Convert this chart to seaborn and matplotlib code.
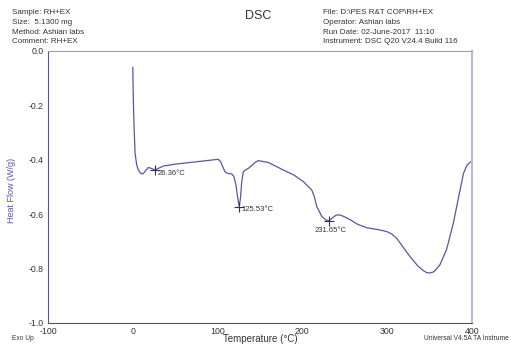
import numpy as np
import pandas as pd
import seaborn as sns
import matplotlib.pyplot as plt
from matplotlib.ticker import MultipleLocator

# DSC curve (temperature in C, heat flow in W/g)
temp = [0.0, 0.3, 0.8, 1.5, 2.7, 4.6, 6.5, 8.5, 10.5, 12.5, 15.0, 18.4, 22.0, 26.36,
        36.0, 50.0, 70.0, 90.0, 100.8, 103.6, 106.0, 108.7, 112.0, 116.6, 119.0,
        121.5, 123.5, 125.53, 127.0, 128.3, 130.3, 133.0, 136.0, 140.0, 144.0, 148.0,
        160.0, 177.4, 190.0, 201.0, 211.0, 214.0, 217.0, 223.0, 228.0, 231.65, 236.0,
        240.0, 244.6, 250.0, 256.6, 265.0, 276.0, 290.0, 299.5, 305.0, 311.3, 318.0,
        327.0, 336.0, 342.0, 346.6, 350.0, 355.0, 362.0, 370.0, 378.0, 384.0, 390.0,
        394.0, 398.5]
heat = [-0.06, -0.12, -0.20, -0.28, -0.376, -0.419, -0.437, -0.447, -0.452, -0.450,
        -0.440, -0.428, -0.432, -0.437, -0.423, -0.416, -0.409, -0.402, -0.398,
        -0.407, -0.425, -0.444, -0.450, -0.452, -0.460, -0.490, -0.535, -0.572,
        -0.540, -0.486, -0.444, -0.437, -0.432, -0.422, -0.410, -0.403, -0.410,
        -0.4375, -0.456, -0.480, -0.511, -0.535, -0.572, -0.609, -0.622, -0.624,
        -0.612, -0.603, -0.603, -0.610, -0.621, -0.637, -0.650, -0.657, -0.664,
        -0.672, -0.689, -0.718, -0.756, -0.790, -0.806, -0.815, -0.816, -0.812,
        -0.787, -0.730, -0.633, -0.540, -0.450, -0.420, -0.407]

peak_t = [26.36, 125.53, 231.65]
peak_v = [-0.437, -0.572, -0.624]
peak_lbl = ["26.36°C", "125.53°C", "231.65°C"]

left_hdr = ["Sample: RH+EX", "Size:  5.1300 mg", "Method: Ashian labs", "Comment: RH+EX"]
right_hdr = ["File: D:\\PES R&T COP\\RH+EX", "Operator: Ashian labs",
             "Run Date: 02-June-2017  11:10", "Instrument: DSC Q20 V24.4 Build 116"]

df = pd.DataFrame({"T": temp, "HF": heat})

sns.set_style("white")
plt.rcParams['font.family'] = ['Liberation Sans', 'DejaVu Sans']
plt.rcParams['axes.unicode_minus'] = False

line_col = "#5558a4"
txt_col = "#333333"

fig = plt.figure(figsize=(5.11, 3.45), dpi=100)
ax = fig.add_axes([48 / 511, 1 - 323 / 345, 424 / 511, 272 / 345])

sns.lineplot(data=df, x="T", y="HF", sort=False, color=line_col, lw=0.9, ax=ax)

# peak markers
ax.plot(peak_t, peak_v, ls="none", marker="+", ms=7, mew=0.8, color="#333355")
for t, v, s in zip(peak_t, peak_v, peak_lbl):
    if t < 200:
        ax.text(t + 3, v - 0.012, s, fontsize=5.5, color=txt_col, ha="left", va="center")
    else:
        ax.text(t + 1, v - 0.037, s, fontsize=5.5, color=txt_col, ha="center", va="center")

ax.set_xlim(-100, 400)
ax.set_ylim(-1.0, 0.0)
ax.xaxis.set_major_locator(MultipleLocator(100))
ax.xaxis.set_minor_locator(MultipleLocator(25))
ax.yaxis.set_major_locator(MultipleLocator(0.2))
ax.yaxis.set_minor_locator(MultipleLocator(0.05))
ax.set_yticks([0.0, -0.2, -0.4, -0.6, -0.8, -1.0])
ax.set_yticklabels(["0.0", "-0.2", "-0.4", "-0.6", "-0.8", "-1.0"])
ax.tick_params(axis="both", which="major", direction="inout", length=4, width=0.6,
               labelsize=6.3, labelcolor=txt_col, pad=1)
ax.tick_params(axis="both", which="minor", direction="inout", length=2.5, width=0.5)
ax.tick_params(axis="y", colors=line_col, labelcolor=txt_col)
ax.tick_params(axis="x", colors="#555555", labelcolor=txt_col)

ax.spines["left"].set_color(line_col)
ax.spines["bottom"].set_color("#555555")
ax.spines["top"].set_color("#a0a0a8")
ax.spines["right"].set_color("#b8b8e0")
ax.spines["right"].set_linewidth(1.4)
for s in ["left", "bottom", "top"]:
    ax.spines[s].set_linewidth(0.8)

ax.set_xlabel("")
ax.set_ylabel("")
fig.text(12 / 511, 1 - 190 / 345, "Heat Flow (W/g)", rotation=90, fontsize=6.5,
         color=line_col, ha="center", va="center")
fig.text(260 / 511, 1 - 339 / 345, "Temperature (°C)", fontsize=7,
         color=txt_col, ha="center", va="center")
fig.text(12 / 511, 1 - 339 / 345, "Exo Up", fontsize=4.8, color=txt_col,
         ha="left", va="center")
# the footer runs off the right edge in the source; only the visible part is kept
fig.text(509 / 511, 1 - 339 / 345, "Universal V4.5A TA Instrume", fontsize=4.8,
         color=txt_col, ha="right", va="center")

fig.text(258 / 511, 1 - 16 / 345, "DSC", fontsize=9, color=txt_col,
         ha="center", va="center")
for i, s in enumerate(left_hdr):
    fig.text(12 / 511, 1 - (13 + i * 9.5) / 345, s, fontsize=5.8,
             color=txt_col, ha="left", va="center")
for i, s in enumerate(right_hdr):
    fig.text(323 / 511, 1 - (13 + i * 9.5) / 345, s, fontsize=5.8,
             color=txt_col, ha="left", va="center")

fig.savefig("out.png", dpi=100, facecolor="white")
